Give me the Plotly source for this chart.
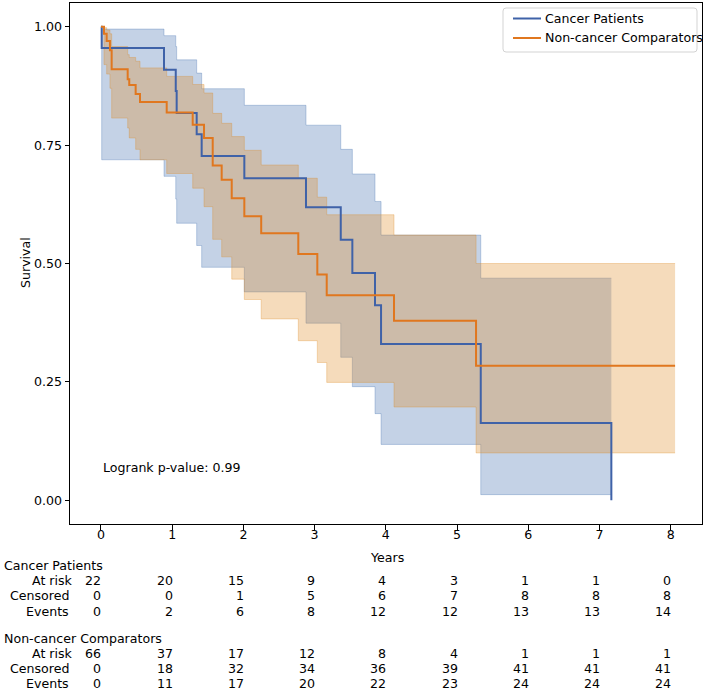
import plotly.graph_objects as go

# ---------------- data ----------------
cancer_label = "Cancer Patients"
comp_label = "Non-cancer Comparators"

cancer_t = [0, 0.01, 0.885, 1.05, 1.063, 1.344, 1.414, 2.013, 2.879, 3.367, 3.53, 3.848, 3.933, 5.333, 7.167]
cancer_s = [1.0, 0.955, 0.909, 0.864, 0.818, 0.773, 0.727, 0.680, 0.619, 0.550, 0.480, 0.412, 0.330, 0.163, 0.0]
cancer_hi = [1.0, 0.995, 0.981, 0.958, 0.930, 0.902, 0.869, 0.834, 0.792, 0.741, 0.689, 0.631, 0.560, 0.469, 0.469]
cancer_lo = [1.0, 0.719, 0.684, 0.636, 0.585, 0.538, 0.492, 0.440, 0.374, 0.302, 0.240, 0.183, 0.118, 0.012, 0.012]

comp_t = [0, 0.042, 0.08, 0.126, 0.15, 0.375, 0.397, 0.487, 0.548, 0.923, 1.288, 1.447, 1.569, 1.695,
          1.836, 2.013, 2.25, 2.771, 3.038, 3.17, 4.115, 5.267, 8.062]
comp_s = [1.0, 0.985, 0.970, 0.950, 0.910, 0.889, 0.877, 0.858, 0.841, 0.819, 0.793, 0.765, 0.707, 0.677,
          0.638, 0.600, 0.564, 0.520, 0.477, 0.433, 0.379, 0.284, 0.284]
comp_hi = [1.0, 0.998, 0.993, 0.985, 0.958, 0.941, 0.935, 0.927, 0.913, 0.895, 0.878, 0.860, 0.817, 0.796,
           0.768, 0.739, 0.708, 0.680, 0.640, 0.603, 0.560, 0.500, 0.500]
comp_lo = [1.0, 0.920, 0.900, 0.870, 0.807, 0.786, 0.765, 0.741, 0.719, 0.690, 0.659, 0.620, 0.551, 0.514,
           0.467, 0.424, 0.383, 0.337, 0.291, 0.249, 0.197, 0.100, 0.100]

x_ticks = [0, 1, 2, 3, 4, 5, 6, 7, 8]
y_ticks = [0.0, 0.25, 0.5, 0.75, 1.0]

cancer_at_risk = [22, 20, 15, 9, 4, 3, 1, 1, 0]
cancer_censored = [0, 0, 1, 5, 6, 7, 8, 8, 8]
cancer_events = [0, 2, 6, 8, 12, 12, 13, 13, 14]
comp_at_risk = [66, 37, 17, 12, 8, 4, 1, 1, 1]
comp_censored = [0, 18, 32, 34, 36, 39, 41, 41, 41]
comp_events = [0, 11, 17, 20, 22, 23, 24, 24, 24]

row_names = ["At risk", "Censored", "Events"]
logrank_text = "Logrank p-value: 0.99"

# ---------------- styling ----------------
W, H = 705, 690
ML, MR, MT, MB = 70, 3, 3, 166
FONT = "DejaVu Sans"
FS = 12.6
BLUE = "#3f62a8"
ORANGE = "#e0771f"
BLUE_BAND = "rgba(58,105,172,0.30)"
ORANGE_BAND = "rgba(222,136,30,0.30)"

plot_w = W - ML - MR
plot_h = H - MT - MB


def px_x(px):
    return (px - ML) / plot_w


def px_y(py):
    return (H - MB - py) / plot_h


fig = go.Figure()

# bands (drawn below lines, like matplotlib collections)
for t, lo, hi, col in [(cancer_t, cancer_lo, cancer_hi, BLUE_BAND),
                       (comp_t, comp_lo, comp_hi, ORANGE_BAND)]:
    fig.add_trace(go.Scatter(x=t, y=lo, mode="lines", line=dict(shape="hv", width=1, color=col),
                             showlegend=False, hoverinfo="skip"))
    fig.add_trace(go.Scatter(x=t, y=hi, mode="lines", line=dict(shape="hv", width=1, color=col),
                             fill="tonexty", fillcolor=col, showlegend=False, hoverinfo="skip"))

fig.add_trace(go.Scatter(x=cancer_t, y=cancer_s, mode="lines", name=cancer_label,
                         line=dict(shape="hv", width=2, color=BLUE), showlegend=False))
fig.add_trace(go.Scatter(x=comp_t, y=comp_s, mode="lines", name=comp_label,
                         line=dict(shape="hv", width=2, color=ORANGE), showlegend=False))

axis_common = dict(showline=True, linecolor="black", linewidth=1, mirror=True, showgrid=False,
                   zeroline=False, ticks="outside", ticklen=4.5, tickwidth=1, tickcolor="black",
                   tickfont=dict(family=FONT, size=FS, color="black"))

fig.update_xaxes(range=[-0.435, 8.44], tickvals=x_ticks, ticktext=[str(v) for v in x_ticks],
                 ticklabelstandoff=-6, **axis_common)
fig.update_yaxes(range=[-0.05, 1.05], tickvals=y_ticks, ticktext=["%.2f" % v for v in y_ticks], **axis_common)

ann = []


def text(s, x, y, xanchor="center", yanchor="middle", xref="paper", angle=0, xshift=0):
    ann.append(dict(text=s, x=x, y=y, xref=xref, yref="paper", xanchor=xanchor, yanchor=yanchor,
                    showarrow=False, textangle=angle, xshift=xshift,
                    font=dict(family=FONT, size=FS, color="black")))


text("Survival", px_x(25), px_y(263), angle=-90)
text("Years", px_x(387), px_y(557))
text(logrank_text, px_x(101), px_y(467), xanchor="left")

groups = [
    (cancer_label, 565.5, [cancer_at_risk, cancer_censored, cancer_events], [580.7, 595.8, 611.0]),
    (comp_label, 638.5, [comp_at_risk, comp_censored, comp_events], [653.8, 668.6, 683.5]),
]
label_right = [74.5, 71.0, 71.0]
for name, hy, rows, rys in groups:
    text(name, px_x(1.5), px_y(hy), xanchor="left")
    for rn, vals, ry, lr in zip(row_names, rows, rys, label_right):
        text(rn, px_x(lr), px_y(ry), xanchor="right")
        for xv, v in zip(x_ticks, vals):
            text(str(v), xv, px_y(ry), xanchor="right", xref="x", xshift=2.5)

# legend box (matplotlib-style, rounded frame)
shapes = []
lx0, lx1, ly0, ly1, r = 503, 697, 8, 52, 3
path = (f"M {px_x(lx0 + r)} {px_y(ly0)} L {px_x(lx1 - r)} {px_y(ly0)} "
        f"Q {px_x(lx1)} {px_y(ly0)} {px_x(lx1)} {px_y(ly0 + r)} "
        f"L {px_x(lx1)} {px_y(ly1 - r)} Q {px_x(lx1)} {px_y(ly1)} {px_x(lx1 - r)} {px_y(ly1)} "
        f"L {px_x(lx0 + r)} {px_y(ly1)} Q {px_x(lx0)} {px_y(ly1)} {px_x(lx0)} {px_y(ly1 - r)} "
        f"L {px_x(lx0)} {px_y(ly0 + r)} Q {px_x(lx0)} {px_y(ly0)} {px_x(lx0 + r)} {px_y(ly0)} Z")
shapes.append(dict(type="path", path=path, xref="paper", yref="paper",
                   line=dict(color="#d3d3d3", width=1), fillcolor="rgba(255,255,255,0.8)", layer="above"))
for lab, col, ly in [(cancer_label, BLUE, 18.5), (comp_label, ORANGE, 38.0)]:
    shapes.append(dict(type="line", xref="paper", yref="paper", x0=px_x(513), x1=px_x(541),
                       y0=px_y(ly), y1=px_y(ly), line=dict(color=col, width=2), layer="above"))
    text(lab, px_x(543), px_y(ly), xanchor="left")

fig.update_layout(
    width=W, height=H, autosize=False,
    margin=dict(l=ML, r=MR, t=MT, b=MB, pad=0),
    paper_bgcolor="white", plot_bgcolor="white",
    font=dict(family=FONT, size=FS, color="black"),
    annotations=ann, shapes=shapes, showlegend=False,
)

fig.write_html("out.html", config={"displayModeBar": False},
               post_script="document.body.style.margin='0';")
